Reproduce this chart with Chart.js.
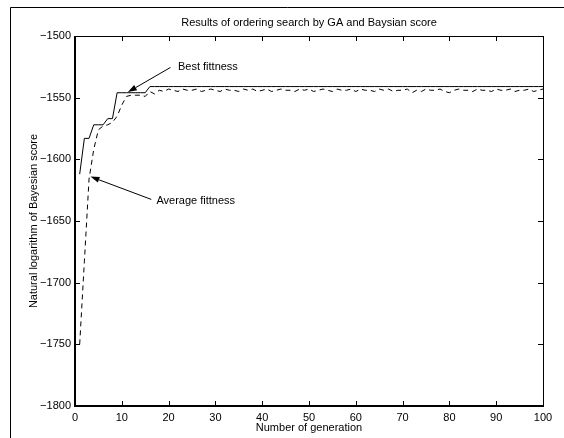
<!DOCTYPE html>
<html>
<head>
<meta charset="utf-8">
<script src="https://cdn.jsdelivr.net/npm/chart.js@4/dist/chart.umd.min.js"></script>
<style>
    html, body { margin: 0; padding: 0; background: #fff; }
    #wrap { width: 564px; height: 438px; }
</style>
</head>
<body>
<div id="wrap"><canvas id="myChart" width="564" height="438"></canvas></div>
<script>
// generation number on the x axis
const generations = Array.from({ length: 100 }, (_, i) => i + 1);

const bestFitness = [
    -1612, -1583, -1583, -1572, -1572, -1572, -1567, -1567, -1546, -1546,
    -1546, -1546, -1546, -1546, -1546, -1541, -1541, -1541, -1541, -1541,
    -1541, -1541, -1541, -1541, -1541, -1541, -1541, -1541, -1541, -1541,
    -1541, -1541, -1541, -1541, -1541, -1541, -1541, -1541, -1541, -1541,
    -1541, -1541, -1541, -1541, -1541, -1541, -1541, -1541, -1541, -1541,
    -1541, -1541, -1541, -1541, -1541, -1541, -1541, -1541, -1541, -1541,
    -1541, -1541, -1541, -1541, -1541, -1541, -1541, -1541, -1541, -1541,
    -1541, -1541, -1541, -1541, -1541, -1541, -1541, -1541, -1541, -1541,
    -1541, -1541, -1541, -1541, -1541, -1541, -1541, -1541, -1541, -1541,
    -1541, -1541, -1541, -1541, -1541, -1541, -1541, -1541, -1541, -1541,
];

const averageFitness = [
    -1750, -1683, -1616, -1592, -1576, -1573, -1572, -1570, -1565, -1556,
    -1549, -1548, -1548, -1548, -1549, -1545, -1547, -1544, -1545, -1543,
    -1544, -1545, -1543, -1544, -1544, -1543, -1545, -1544, -1543, -1544,
    -1545, -1543, -1544, -1544, -1545, -1543, -1544, -1543, -1545, -1544,
    -1543, -1545, -1544, -1543, -1544, -1544, -1545, -1543, -1544, -1543,
    -1545, -1544, -1543, -1544, -1545, -1543, -1544, -1544, -1543, -1545,
    -1543, -1544, -1544, -1545, -1543, -1544, -1543, -1545, -1544, -1544,
    -1543, -1546, -1544, -1545, -1543, -1544, -1544, -1543, -1545, -1546,
    -1544, -1543, -1544, -1544, -1545, -1543, -1544, -1544, -1545, -1543,
    -1544, -1544, -1543, -1545, -1544, -1544, -1543, -1545, -1544, -1543,
];

// arrow notes, in data coordinates
const notes = [
    { text: 'Best fittness', at: [22, -1525.5], tail: [20.4, -1525.5], tip: [11.3, -1545.5] },
    { text: 'Average fittness', at: [17.4, -1634], tail: [16.3, -1632.5], tip: [3.3, -1614] },
];

const FONT = "'Liberation Sans', Arial, Helvetica, sans-serif";
Chart.defaults.font.family = FONT;
Chart.defaults.font.size = 11;
Chart.defaults.color = '#000';

const minusLabel = (v) => (v < 0 ? '\u2212' + Math.abs(v) : String(v));

const framePlugin = {
    id: 'frame',
    beforeDraw(chart) {
        const ctx = chart.ctx;
        ctx.save();
        ctx.fillStyle = '#fff';
        ctx.fillRect(0, 0, chart.width, chart.height);
        ctx.strokeStyle = '#000';
        ctx.lineWidth = 1;
        ctx.beginPath();
        ctx.moveTo(10.5, chart.height);
        ctx.lineTo(10.5, 7.5);
        ctx.lineTo(chart.width, 7.5);
        ctx.stroke();
        ctx.restore();
    },
    afterDatasetsDraw(chart) {
        const { ctx, chartArea: a, scales } = chart;
        const x = scales.x, y = scales.y;
        ctx.save();
        ctx.strokeStyle = '#000';

        // box, left and bottom heavier
        ctx.lineWidth = 1;
        ctx.beginPath();
        ctx.moveTo(a.left, a.top + 0.5);
        ctx.lineTo(a.right + 0.5, a.top + 0.5);
        ctx.lineTo(a.right + 0.5, a.bottom);
        ctx.stroke();
        ctx.lineWidth = 2;
        ctx.beginPath();
        ctx.moveTo(a.left, a.top);
        ctx.lineTo(a.left, a.bottom);
        ctx.lineTo(a.right + 1, a.bottom);
        ctx.stroke();

        // inward ticks on all sides
        ctx.lineWidth = 1;
        ctx.beginPath();
        x.ticks.forEach((t) => {
            const px = Math.round(x.getPixelForValue(t.value)) + 0.5;
            ctx.moveTo(px, a.bottom);
            ctx.lineTo(px, a.bottom - 5);
            ctx.moveTo(px, a.top);
            ctx.lineTo(px, a.top + 5);
        });
        y.ticks.forEach((t) => {
            const py = Math.round(y.getPixelForValue(t.value)) + 0.5;
            ctx.moveTo(a.left, py);
            ctx.lineTo(a.left + 5, py);
            ctx.moveTo(a.right, py);
            ctx.lineTo(a.right - 5, py);
        });
        ctx.stroke();

        // arrow notes
        ctx.font = '11px ' + FONT;
        ctx.fillStyle = '#000';
        ctx.textBaseline = 'middle';
        ctx.textAlign = 'left';
        notes.forEach((n) => {
            const tx = x.getPixelForValue(n.tail[0]), ty = y.getPixelForValue(n.tail[1]);
            const hx = x.getPixelForValue(n.tip[0]), hy = y.getPixelForValue(n.tip[1]);
            const ang = Math.atan2(hy - ty, hx - tx);
            const len = 9, half = 3;
            const bx = hx - len * Math.cos(ang), by = hy - len * Math.sin(ang);
            ctx.beginPath();
            ctx.moveTo(tx, ty);
            ctx.lineTo(bx, by);
            ctx.stroke();
            ctx.beginPath();
            ctx.moveTo(hx, hy);
            ctx.lineTo(bx + half * Math.sin(ang), by - half * Math.cos(ang));
            ctx.lineTo(bx - half * Math.sin(ang), by + half * Math.cos(ang));
            ctx.closePath();
            ctx.fill();
            ctx.fillText(n.text, x.getPixelForValue(n.at[0]), y.getPixelForValue(n.at[1]));
        });
        ctx.restore();
    },
};

const ctx = document.getElementById('myChart').getContext('2d');

new Chart(ctx, {
    type: 'line',
    data: {
        datasets: [
            {
                label: 'Best fittness',
                data: generations.map((g, i) => ({ x: g, y: bestFitness[i] })),
                borderColor: '#000',
                borderWidth: 1,
                pointRadius: 0,
                tension: 0,
                fill: false,
            },
            {
                label: 'Average fittness',
                data: generations.map((g, i) => ({ x: g, y: averageFitness[i] })),
                borderColor: '#000',
                borderWidth: 1,
                borderDash: [5, 4],
                pointRadius: 0,
                tension: 0,
                fill: false,
            },
        ],
    },
    options: {
        responsive: false,
        animation: false,
        layout: { padding: { left: 0, right: 21, top: 0, bottom: 0 } },
        plugins: {
            legend: { display: false },
            tooltip: { enabled: false },
            title: {
                display: true,
                fullSize: false,
                text: 'Results of ordering search by GA and Baysian score',
                font: { size: 11, weight: 'normal' },
                padding: { top: 16, bottom: 6.8 },
            },
        },
        scales: {
            x: {
                type: 'linear',
                min: 0,
                max: 100,
                grid: { display: false, drawTicks: false },
                border: { display: false },
                ticks: { stepSize: 10, padding: 5, maxRotation: 0 },
                title: { display: true, text: 'Number of generation', padding: { top: 0, bottom: 3.5 } },
                afterFit: (scale) => { scale.height = 32; },
            },
            y: {
                min: -1800,
                max: -1500,
                grid: { display: false, drawTicks: false },
                border: { display: false },
                ticks: { stepSize: 50, padding: 4, callback: minusLabel },
                title: { display: true, text: 'Natural logarithm of Bayesian score', padding: { top: 27, bottom: 0 } },
                afterFit: (scale) => { scale.width = 75; },
            },
        },
    },
    plugins: [framePlugin],
});
</script>
</body>
</html>
